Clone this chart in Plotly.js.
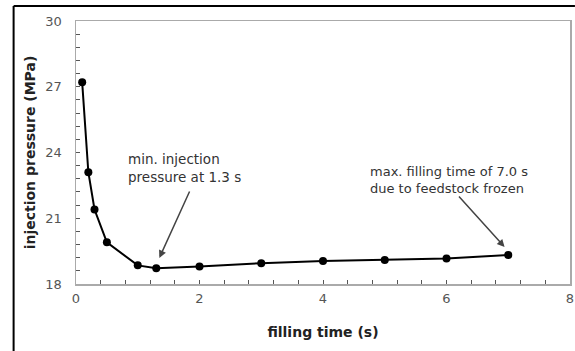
<!DOCTYPE html>
<html>
<head>
<meta charset="utf-8">
<script src="https://cdn.plot.ly/plotly-3.0.1.min.js"></script>
<style>html,body{margin:0;padding:0;background:#fff;}#chart{width:575px;height:351px;}</style>
</head>
<body>
<div id="chart"></div>
<script>
const fillingTime = [0.1, 0.2, 0.3, 0.5, 1.0, 1.3, 2.0, 3.0, 4.0, 5.0, 6.0, 7.0];
const injectionPressure = [27.2, 23.1, 21.4, 19.9, 18.85, 18.72, 18.8, 18.95, 19.05, 19.1, 19.16, 19.32];
const xTickVals = [0, 2, 4, 6, 8];
const yTickVals = [18, 21, 24, 27, 30];

const font = "DejaVu Sans, sans-serif";
const trace = {
  x: fillingTime, y: injectionPressure, type: 'scatter', mode: 'lines+markers',
  line: {color: '#000', width: 2},
  marker: {color: '#000', size: 8},
  showlegend: false, cliponaxis: false
};
const layout = {
  width: 575, height: 351,
  margin: {l: 76, r: 5, t: 21, b: 67},
  paper_bgcolor: '#fff', plot_bgcolor: '#fff',
  font: {family: font, color: '#444', size: 12},
  xaxis: {
    range: [0, 8], tickvals: xTickVals, ticks: 'inside', ticklen: 4, tickcolor: '#555',
    showgrid: false, zeroline: false, showline: true, linecolor: '#aaa', linewidth: 1.5, mirror: true,
    minor: {dtick: 0.4, tick0: 0, ticks: 'inside', ticklen: 4, tickcolor: '#555', showgrid: false},
    tickfont: {family: font, size: 13, color: '#555'}, ticklabelstandoff: 2,
    title: {text: 'filling time (s)', font: {family: font, size: 14, color: '#222', weight: 'bold'}, standoff: 22}
  },
  yaxis: {
    range: [18, 30], tickvals: yTickVals, ticks: 'inside', ticklen: 4, tickcolor: '#555',
    showgrid: false, zeroline: false, showline: true, linecolor: '#aaa', linewidth: 1.5, mirror: true,
    minor: {dtick: 0.6, tick0: 18, ticks: 'inside', ticklen: 4, tickcolor: '#555', showgrid: false},
    tickfont: {family: font, size: 13, color: '#555'}, ticklabelstandoff: 10,
    title: {text: 'injection pressure (MPa)', font: {family: font, size: 14, color: '#222', weight: 'bold'}, standoff: 6}
  },
  shapes: [
    {type: 'line', xref: 'paper', yref: 'paper', x0: -0.1263, x1: 1.01, y0: 1.057, y1: 1.057, line: {color: '#000', width: 2}},
    {type: 'line', xref: 'paper', yref: 'paper', x0: -0.1263, x1: -0.1263, y0: 1.057, y1: -0.26, line: {color: '#000', width: 2}}
  ],
  annotations: [
    {xref: 'paper', yref: 'paper', x: 0.43, y: 1.078, yanchor: 'bottom', xanchor: 'center', showarrow: false,
     text: '<b>(b)    Processing window</b>', font: {family: 'Liberation Serif, serif', size: 18, color: '#000'}},
    {x: 0.816, y: 23.3, xanchor: 'left', yanchor: 'middle', align: 'left', showarrow: false,
     text: 'min. injection<br>pressure at 1.3 s', font: {family: font, size: 13.5, color: '#333'}},
    {x: 4.727, y: 22.75, xanchor: 'left', yanchor: 'middle', align: 'left', showarrow: false,
     text: 'max. filling time of 7.0 s<br>due to feedstock frozen', font: {family: font, size: 13, color: '#333'}},
    {x: 1.35, y: 19.19, ax: 1.85, ay: 22.29, axref: 'x', ayref: 'y', text: '', showarrow: true,
     arrowhead: 2, arrowsize: 1, arrowwidth: 1.5, arrowcolor: '#444'},
    {x: 6.94, y: 19.69, ax: 6.18, ay: 22.06, axref: 'x', ayref: 'y', text: '', showarrow: true,
     arrowhead: 2, arrowsize: 1, arrowwidth: 1.5, arrowcolor: '#444'}
  ]
};
Plotly.newPlot('chart', [trace], layout, {staticPlot: true, displayModeBar: false});
</script>
</body>
</html>
